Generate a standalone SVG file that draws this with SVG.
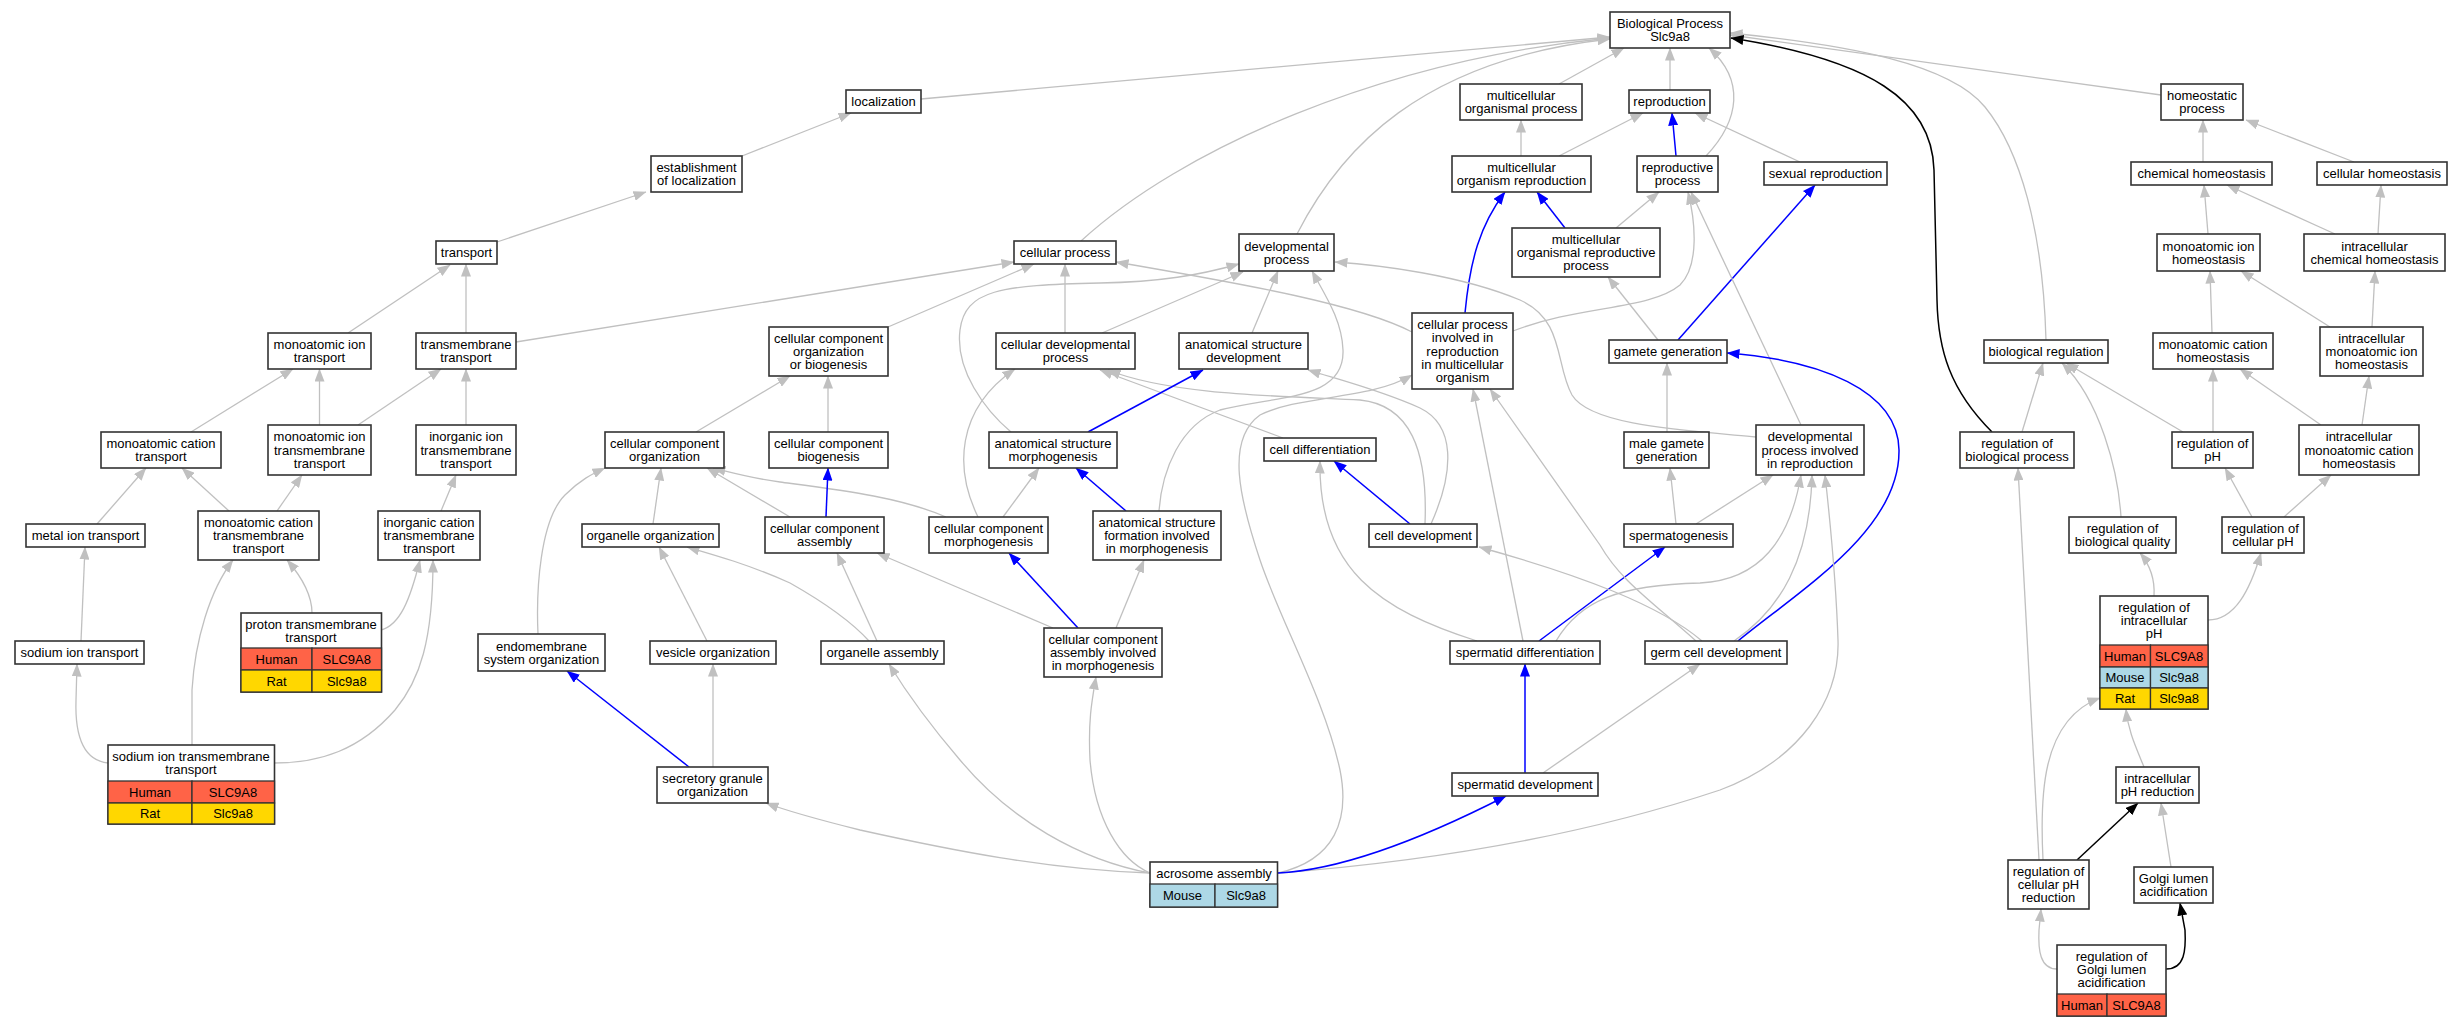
<svg xmlns="http://www.w3.org/2000/svg" width="2463" height="1027" viewBox="0 0 2463 1027">
<style>
text{font-family:"Liberation Sans",Arial,sans-serif;font-size:13px;text-anchor:middle;fill:#000}
.n rect{fill:#fff;stroke:#333;stroke-width:1.6}
.n rect.hu{fill:#ff6347;stroke-width:1.3}
.n rect.mo{fill:#add8e6;stroke-width:1.3}
.n rect.ra{fill:#ffd700;stroke-width:1.3}
#edges path{fill:none;stroke:#c0c0c0;stroke-width:1.3;marker-end:url(#ag)}
#edges path.b{stroke:#0000ff;stroke-width:1.5;marker-end:url(#ab)}
#edges path.k{stroke:#000;stroke-width:1.5;marker-end:url(#ak)}
</style>
<defs>
<marker id="ag" viewBox="0 0 13 10" refX="12.5" refY="5" markerWidth="13" markerHeight="10" markerUnits="userSpaceOnUse" orient="auto"><path d="M0,0 L13,5 L0,10 z" fill="#c0c0c0"/></marker>
<marker id="ab" viewBox="0 0 13 10" refX="12.5" refY="5" markerWidth="13" markerHeight="10" markerUnits="userSpaceOnUse" orient="auto"><path d="M0,0 L13,5 L0,10 z" fill="#0000ff"/></marker>
<marker id="ak" viewBox="0 0 13 10" refX="12.5" refY="5" markerWidth="13" markerHeight="10" markerUnits="userSpaceOnUse" orient="auto"><path d="M0,0 L13,5 L0,10 z" fill="#000"/></marker>
</defs>
<rect width="2463" height="1027" fill="#fff"/>
<g id="edges">
<path d="M921,99 L1610,37"/>
<path d="M1081,241 C1180,150 1380,60 1610,38"/>
<path d="M1297,234 C1340,150 1420,60 1610,39"/>
<path d="M1559,84 L1624,48"/>
<path d="M1670,90 L1670,48"/>
<path d="M1706,156 C1740,120 1745,80 1709,48"/>
<path d="M2161,95 L1730,35"/>
<path d="M2046,340 C2043,230 2020,150 1985,107 S1850,45 1730,33"/>
<path class="k" d="M1992,432 C1950,390 1938,350 1937,300 L1934,170 C1932,100 1870,60 1731,38"/>
<path d="M1521,156 L1521,120"/>
<path d="M1559,156 L1643,113"/>
<path class="b" d="M1676,156 L1672,113"/>
<path d="M1800,162 L1695,113"/>
<path class="b" d="M1565,228 L1537,192"/>
<path d="M1616,228 L1659,192"/>
<path class="b" d="M1465,313 C1470,260 1480,225 1505,192"/>
<path d="M1412,332 C1360,305 1250,285 1116,262"/>
<path d="M1513,331 C1580,305 1650,310 1680,285 C1700,265 1695,220 1688,192"/>
<path d="M1658,340 L1608,277"/>
<path class="b" d="M1678,340 L1815,185"/>
<path d="M1801,425 L1691,192"/>
<path d="M1756,437 C1680,430 1590,425 1572,395 C1555,365 1565,320 1520,300 C1460,275 1380,265 1335,262"/>
<path d="M1676,524 L1670,468"/>
<path d="M1667,432 L1667,363"/>
<path d="M1696,524 L1773,475"/>
<path class="b" d="M1539,641 L1665,547"/>
<path d="M1477,641 C1380,610 1318,570 1320,461"/>
<path d="M1523,641 L1473,389"/>
<path d="M1556,641 C1580,600 1620,585 1700,583 C1760,580 1790,540 1801,475"/>
<path d="M1702,641 C1660,605 1580,575 1479,547"/>
<path d="M1696,641 C1650,600 1620,580 1600,545 L1490,389"/>
<path d="M1734,641 C1780,610 1810,560 1812,475"/>
<path class="b" d="M1738,641 C1800,590 1900,530 1899,450 C1898,390 1820,360 1727,353"/>
<path class="b" d="M1410,524 L1334,461"/>
<path d="M1425,524 C1428,450 1410,405 1360,400 C1280,396 1170,395 1108,370"/>
<path d="M1431,524 C1455,470 1455,425 1420,408 C1380,390 1340,380 1308,370"/>
<path d="M1283,438 L1100,370"/>
<path d="M1252,333 L1278,271"/>
<path class="b" d="M1088,432 L1203,370"/>
<path d="M1065,333 L1065,264"/>
<path d="M1102,333 L1243,272"/>
<path d="M1278,873 C1335,860 1350,820 1340,770 C1325,700 1280,620 1260,560 C1240,500 1225,440 1260,415 C1300,395 1370,400 1412,375"/>
<path d="M1278,873 C1450,860 1600,830 1720,790 C1800,760 1840,700 1838,640 C1836,580 1830,520 1825,475"/>
<path class="b" d="M1278,873 C1340,870 1420,840 1506,796"/>
<path d="M1150,873 C1120,860 1095,820 1090,760 C1088,720 1092,700 1096,677"/>
<path d="M1150,873 C1080,860 1010,820 960,760 C930,725 905,690 889,664"/>
<path d="M1150,873 C1050,870 950,850 860,830 C820,820 790,812 766,803"/>
<path class="b" d="M1525,773 L1525,664"/>
<path d="M1543,773 L1700,664"/>
<path d="M1053,628 L877,553"/>
<path class="b" d="M1078,628 L1009,553"/>
<path d="M1116,628 L1144,560"/>
<path class="b" d="M1126,511 L1076,468"/>
<path d="M1159,511 C1162,470 1180,425 1220,410 C1280,395 1345,400 1343,350 C1342,320 1325,295 1312,271"/>
<path d="M1003,517 L1039,468"/>
<path d="M978,517 C955,470 955,410 1015,369"/>
<path d="M1011,432 C985,410 955,370 960,330 C965,290 1000,285 1100,283 C1160,282 1200,275 1239,264"/>
<path d="M946,517 C900,497 840,490 780,482 C750,478 730,472 713,468"/>
<path d="M790,517 L707,468"/>
<path class="b" d="M826,517 L828,468"/>
<path d="M653,524 L661,468"/>
<path d="M696,432 L790,376"/>
<path d="M828,432 L828,376"/>
<path d="M888,327 L1034,264"/>
<path d="M516,342 L1014,262"/>
<path d="M538,634 C536,590 540,520 565,495 C580,480 592,474 605,468"/>
<path d="M707,641 L659,547"/>
<path d="M869,641 C850,620 820,600 790,583 C750,565 715,555 687,547"/>
<path d="M877,641 L837,553"/>
<path class="b" d="M689,767 L567,671"/>
<path d="M713,767 L713,664"/>
<path d="M742,156 L851,113"/>
<path d="M497,242 L646,192"/>
<path d="M348,333 L450,265"/>
<path d="M466,333 L466,264"/>
<path d="M191,432 L293,369"/>
<path d="M319.5,425 L319.5,369"/>
<path d="M358,425 L441,369"/>
<path d="M466,425 L466,369"/>
<path d="M97,524 L146,468"/>
<path d="M229,511 L182,468"/>
<path d="M277,511 L302,475"/>
<path d="M441,511 L456,475"/>
<path d="M312,613 C312,595 300,575 287,560"/>
<path d="M381,630 C400,625 410,600 420,560"/>
<path d="M81,641 L85,547"/>
<path d="M108,763 C80,760 75,730 76,700 L77,664"/>
<path d="M192,745 L192,690 C195,640 210,590 233,560"/>
<path d="M274,763 C320,763 360,750 395,710 C420,680 433,640 433,560"/>
<path d="M2203,162 L2203,120"/>
<path d="M2354,162 L2246,120"/>
<path d="M2208,234 L2204,185"/>
<path d="M2335,234 L2227,185"/>
<path d="M2378,234 L2381,185"/>
<path d="M2212,333 L2210,271"/>
<path d="M2330,327 L2241,271"/>
<path d="M2372,327 L2375,271"/>
<path d="M2022,432 L2043,363"/>
<path d="M2121,517 C2118,470 2100,400 2062,363"/>
<path d="M2183,432 L2066,363"/>
<path d="M2213,432 L2213,369"/>
<path d="M2321,425 L2240,369"/>
<path d="M2362,425 L2369,376"/>
<path d="M2252,517 L2225,468"/>
<path d="M2284,517 L2331,475"/>
<path d="M2154,596 C2155,580 2150,565 2140,553"/>
<path d="M2208,620 C2235,620 2250,590 2261,553"/>
<path d="M2144,767 C2135,745 2128,730 2126,709"/>
<path d="M2043,860 C2040,800 2040,720 2100,698"/>
<path d="M2039,860 C2030,700 2022,560 2018,468"/>
<path class="k" d="M2077,860 L2138,803"/>
<path d="M2171,867 L2161,803"/>
<path d="M2057,969 C2040,969 2038,950 2039,930 L2041,909"/>
<path class="k" d="M2166,969 C2185,969 2186,950 2185,930 L2180,903"/>
</g>
<g id="n1" class="n"><rect x="1610" y="12" width="120" height="36"/><text x="1670" y="28"><tspan x="1670">Biological Process</tspan><tspan x="1670" dy="13.3">Slc9a8</tspan></text></g>
<g id="n2" class="n"><rect x="846" y="90" width="75" height="23"/><text x="883.5" y="106.1">localization</text></g>
<g id="n3" class="n"><rect x="651" y="156" width="91" height="36"/><text x="696.5" y="172"><tspan x="696.5">establishment</tspan><tspan x="696.5" dy="13.3">of localization</tspan></text></g>
<g id="n4" class="n"><rect x="436" y="241" width="61" height="23"/><text x="466.5" y="257.1">transport</text></g>
<g id="n5" class="n"><rect x="268" y="333" width="103" height="36"/><text x="319.5" y="349"><tspan x="319.5">monoatomic ion</tspan><tspan x="319.5" dy="13.3">transport</tspan></text></g>
<g id="n6" class="n"><rect x="416" y="333" width="100" height="36"/><text x="466" y="349"><tspan x="466">transmembrane</tspan><tspan x="466" dy="13.3">transport</tspan></text></g>
<g id="n7" class="n"><rect x="101" y="432" width="120" height="36"/><text x="161" y="448"><tspan x="161">monoatomic cation</tspan><tspan x="161" dy="13.3">transport</tspan></text></g>
<g id="n8" class="n"><rect x="268" y="425" width="103" height="50"/><text x="319.5" y="441.3"><tspan x="319.5">monoatomic ion</tspan><tspan x="319.5" dy="13.3">transmembrane</tspan><tspan x="319.5" dy="13.3">transport</tspan></text></g>
<g id="n9" class="n"><rect x="416" y="425" width="100" height="50"/><text x="466" y="441.3"><tspan x="466">inorganic ion</tspan><tspan x="466" dy="13.3">transmembrane</tspan><tspan x="466" dy="13.3">transport</tspan></text></g>
<g id="n10" class="n"><rect x="26" y="524" width="119" height="23"/><text x="85.5" y="540.1">metal ion transport</text></g>
<g id="n11" class="n"><rect x="198" y="511" width="121" height="49"/><text x="258.5" y="526.8"><tspan x="258.5">monoatomic cation</tspan><tspan x="258.5" dy="13.3">transmembrane</tspan><tspan x="258.5" dy="13.3">transport</tspan></text></g>
<g id="n12" class="n"><rect x="378" y="511" width="102" height="49"/><text x="429" y="526.8"><tspan x="429">inorganic cation</tspan><tspan x="429" dy="13.3">transmembrane</tspan><tspan x="429" dy="13.3">transport</tspan></text></g>
<g id="n13" class="n"><rect x="241" y="613" width="140.5" height="79"/><text x="311" y="628.5"><tspan x="311">proton transmembrane</tspan><tspan x="311" dy="13.3">transport</tspan></text><rect class="hu" x="241" y="648" width="71" height="22"/><rect class="hu" x="312" y="648" width="69.5" height="22"/><rect class="ra" x="241" y="670" width="71" height="22"/><rect class="ra" x="312" y="670" width="69.5" height="22"/><text x="276.5" y="663.6">Human</text><text x="346.8" y="663.6">SLC9A8</text><text x="276.5" y="685.6">Rat</text><text x="346.8" y="685.6">Slc9a8</text></g>
<g id="n14" class="n"><rect x="15" y="641" width="129" height="23"/><text x="79.5" y="657.1">sodium ion transport</text></g>
<g id="n15" class="n"><rect x="108" y="745" width="166.5" height="79"/><text x="191" y="761"><tspan x="191">sodium ion transmembrane</tspan><tspan x="191" dy="13.3">transport</tspan></text><rect class="hu" x="108" y="781" width="84" height="22"/><rect class="hu" x="192" y="781" width="82.5" height="22"/><rect class="ra" x="108" y="803" width="84" height="21"/><rect class="ra" x="192" y="803" width="82.5" height="21"/><text x="150" y="796.6">Human</text><text x="233" y="796.6">SLC9A8</text><text x="150" y="818.1">Rat</text><text x="233" y="818.1">Slc9a8</text></g>
<g id="n16" class="n"><rect x="478" y="634" width="127" height="37"/><text x="541.5" y="650.5"><tspan x="541.5">endomembrane</tspan><tspan x="541.5" dy="13.3">system organization</tspan></text></g>
<g id="n17" class="n"><rect x="657" y="767" width="111" height="36"/><text x="712.5" y="783"><tspan x="712.5">secretory granule</tspan><tspan x="712.5" dy="13.3">organization</tspan></text></g>
<g id="n18" class="n"><rect x="650" y="641" width="126" height="23"/><text x="713" y="657.1">vesicle organization</text></g>
<g id="n19" class="n"><rect x="582" y="524" width="137" height="23"/><text x="650.5" y="540.1">organelle organization</text></g>
<g id="n20" class="n"><rect x="821" y="641" width="123" height="23"/><text x="882.5" y="657.1">organelle assembly</text></g>
<g id="n21" class="n"><rect x="605" y="432" width="119" height="36"/><text x="664.5" y="448"><tspan x="664.5">cellular component</tspan><tspan x="664.5" dy="13.3">organization</tspan></text></g>
<g id="n22" class="n"><rect x="769" y="327" width="119" height="49"/><text x="828.5" y="342.8"><tspan x="828.5">cellular component</tspan><tspan x="828.5" dy="13.3">organization</tspan><tspan x="828.5" dy="13.3">or biogenesis</tspan></text></g>
<g id="n23" class="n"><rect x="769" y="432" width="119" height="36"/><text x="828.5" y="448"><tspan x="828.5">cellular component</tspan><tspan x="828.5" dy="13.3">biogenesis</tspan></text></g>
<g id="n24" class="n"><rect x="765" y="517" width="119" height="36"/><text x="824.5" y="533"><tspan x="824.5">cellular component</tspan><tspan x="824.5" dy="13.3">assembly</tspan></text></g>
<g id="n25" class="n"><rect x="929" y="517" width="119" height="36"/><text x="988.5" y="533"><tspan x="988.5">cellular component</tspan><tspan x="988.5" dy="13.3">morphogenesis</tspan></text></g>
<g id="n26" class="n"><rect x="1044" y="628" width="118" height="49"/><text x="1103" y="643.8"><tspan x="1103">cellular component</tspan><tspan x="1103" dy="13.3">assembly involved</tspan><tspan x="1103" dy="13.3">in morphogenesis</tspan></text></g>
<g id="n27" class="n"><rect x="1014" y="241" width="102" height="23"/><text x="1065" y="257.1">cellular process</text></g>
<g id="n28" class="n"><rect x="1239" y="234" width="95" height="37"/><text x="1286.5" y="250.5"><tspan x="1286.5">developmental</tspan><tspan x="1286.5" dy="13.3">process</tspan></text></g>
<g id="n29" class="n"><rect x="996" y="333" width="139" height="36"/><text x="1065.5" y="349"><tspan x="1065.5">cellular developmental</tspan><tspan x="1065.5" dy="13.3">process</tspan></text></g>
<g id="n30" class="n"><rect x="1179" y="333" width="129" height="36"/><text x="1243.5" y="349"><tspan x="1243.5">anatomical structure</tspan><tspan x="1243.5" dy="13.3">development</tspan></text></g>
<g id="n31" class="n"><rect x="989" y="432" width="128" height="36"/><text x="1053" y="448"><tspan x="1053">anatomical structure</tspan><tspan x="1053" dy="13.3">morphogenesis</tspan></text></g>
<g id="n32" class="n"><rect x="1093" y="511" width="128" height="49"/><text x="1157" y="526.8"><tspan x="1157">anatomical structure</tspan><tspan x="1157" dy="13.3">formation involved</tspan><tspan x="1157" dy="13.3">in morphogenesis</tspan></text></g>
<g id="n33" class="n"><rect x="1150" y="862" width="127.5" height="45"/><text x="1214" y="877.6">acrosome assembly</text><rect class="mo" x="1150" y="884" width="65" height="23"/><rect class="mo" x="1215" y="884" width="62.5" height="23"/><text x="1182.5" y="900.1">Mouse</text><text x="1246" y="900.1">Slc9a8</text></g>
<g id="n34" class="n"><rect x="1264" y="438" width="112" height="23"/><text x="1320" y="454.1">cell differentiation</text></g>
<g id="n35" class="n"><rect x="1369" y="524" width="108" height="23"/><text x="1423" y="540.1">cell development</text></g>
<g id="n36" class="n"><rect x="1412" y="313" width="101" height="76"/><text x="1462.5" y="329"><tspan x="1462.5">cellular process</tspan><tspan x="1462.5" dy="13.3">involved in</tspan><tspan x="1462.5" dy="13.3">reproduction</tspan><tspan x="1462.5" dy="13.3">in multicellular</tspan><tspan x="1462.5" dy="13.3">organism</tspan></text></g>
<g id="n37" class="n"><rect x="1460" y="84" width="122" height="36"/><text x="1521" y="100"><tspan x="1521">multicellular</tspan><tspan x="1521" dy="13.3">organismal process</tspan></text></g>
<g id="n38" class="n"><rect x="1452" y="156" width="139" height="36"/><text x="1521.5" y="172"><tspan x="1521.5">multicellular</tspan><tspan x="1521.5" dy="13.3">organism reproduction</tspan></text></g>
<g id="n39" class="n"><rect x="1512" y="228" width="148" height="49"/><text x="1586" y="243.8"><tspan x="1586">multicellular</tspan><tspan x="1586" dy="13.3">organismal reproductive</tspan><tspan x="1586" dy="13.3">process</tspan></text></g>
<g id="n40" class="n"><rect x="1629" y="90" width="81" height="23"/><text x="1669.5" y="106.1">reproduction</text></g>
<g id="n41" class="n"><rect x="1637" y="156" width="81" height="36"/><text x="1677.5" y="172"><tspan x="1677.5">reproductive</tspan><tspan x="1677.5" dy="13.3">process</tspan></text></g>
<g id="n42" class="n"><rect x="1764" y="162" width="123" height="23"/><text x="1825.5" y="178.1">sexual reproduction</text></g>
<g id="n43" class="n"><rect x="1609" y="340" width="118" height="23"/><text x="1668" y="356.1">gamete generation</text></g>
<g id="n44" class="n"><rect x="1624" y="432" width="85" height="36"/><text x="1666.5" y="448"><tspan x="1666.5">male gamete</tspan><tspan x="1666.5" dy="13.3">generation</tspan></text></g>
<g id="n45" class="n"><rect x="1756" y="425" width="108" height="50"/><text x="1810" y="441.3"><tspan x="1810">developmental</tspan><tspan x="1810" dy="13.3">process involved</tspan><tspan x="1810" dy="13.3">in reproduction</tspan></text></g>
<g id="n46" class="n"><rect x="1624" y="524" width="109" height="23"/><text x="1678.5" y="540.1">spermatogenesis</text></g>
<g id="n47" class="n"><rect x="1450" y="641" width="150" height="23"/><text x="1525" y="657.1">spermatid differentiation</text></g>
<g id="n48" class="n"><rect x="1645" y="641" width="142" height="23"/><text x="1716" y="657.1">germ cell development</text></g>
<g id="n49" class="n"><rect x="1452" y="773" width="146" height="23"/><text x="1525" y="789.1">spermatid development</text></g>
<g id="n50" class="n"><rect x="2161" y="84" width="82" height="36"/><text x="2202" y="100"><tspan x="2202">homeostatic</tspan><tspan x="2202" dy="13.3">process</tspan></text></g>
<g id="n51" class="n"><rect x="2131" y="162" width="141" height="23"/><text x="2201.5" y="178.1">chemical homeostasis</text></g>
<g id="n52" class="n"><rect x="2317" y="162" width="130" height="23"/><text x="2382" y="178.1">cellular homeostasis</text></g>
<g id="n53" class="n"><rect x="2157" y="234" width="103" height="37"/><text x="2208.5" y="250.5"><tspan x="2208.5">monoatomic ion</tspan><tspan x="2208.5" dy="13.3">homeostasis</tspan></text></g>
<g id="n54" class="n"><rect x="2304" y="234" width="141" height="37"/><text x="2374.5" y="250.5"><tspan x="2374.5">intracellular</tspan><tspan x="2374.5" dy="13.3">chemical homeostasis</tspan></text></g>
<g id="n55" class="n"><rect x="2153" y="333" width="120" height="36"/><text x="2213" y="349"><tspan x="2213">monoatomic cation</tspan><tspan x="2213" dy="13.3">homeostasis</tspan></text></g>
<g id="n56" class="n"><rect x="2320" y="327" width="103" height="49"/><text x="2371.5" y="342.8"><tspan x="2371.5">intracellular</tspan><tspan x="2371.5" dy="13.3">monoatomic ion</tspan><tspan x="2371.5" dy="13.3">homeostasis</tspan></text></g>
<g id="n57" class="n"><rect x="1984" y="340" width="124" height="23"/><text x="2046" y="356.1">biological regulation</text></g>
<g id="n58" class="n"><rect x="1960" y="432" width="114" height="36"/><text x="2017" y="448"><tspan x="2017">regulation of</tspan><tspan x="2017" dy="13.3">biological process</tspan></text></g>
<g id="n59" class="n"><rect x="2172" y="432" width="81" height="36"/><text x="2212.5" y="448"><tspan x="2212.5">regulation of</tspan><tspan x="2212.5" dy="13.3">pH</tspan></text></g>
<g id="n60" class="n"><rect x="2299" y="425" width="120" height="50"/><text x="2359" y="441.3"><tspan x="2359">intracellular</tspan><tspan x="2359" dy="13.3">monoatomic cation</tspan><tspan x="2359" dy="13.3">homeostasis</tspan></text></g>
<g id="n61" class="n"><rect x="2069" y="517" width="107" height="36"/><text x="2122.5" y="533"><tspan x="2122.5">regulation of</tspan><tspan x="2122.5" dy="13.3">biological quality</tspan></text></g>
<g id="n62" class="n"><rect x="2222" y="517" width="82" height="36"/><text x="2263" y="533"><tspan x="2263">regulation of</tspan><tspan x="2263" dy="13.3">cellular pH</tspan></text></g>
<g id="n63" class="n"><rect x="2100" y="596" width="108" height="113"/><text x="2154" y="611.8"><tspan x="2154">regulation of</tspan><tspan x="2154" dy="13.3">intracellular</tspan><tspan x="2154" dy="13.3">pH</tspan></text><rect class="hu" x="2100" y="645" width="50.5" height="22"/><rect class="hu" x="2150.5" y="645" width="57.5" height="22"/><rect class="mo" x="2100" y="667" width="50.5" height="21"/><rect class="mo" x="2150.5" y="667" width="57.5" height="21"/><rect class="ra" x="2100" y="688" width="50.5" height="21"/><rect class="ra" x="2150.5" y="688" width="57.5" height="21"/><text x="2125" y="660.6">Human</text><text x="2179" y="660.6">SLC9A8</text><text x="2125" y="682.1">Mouse</text><text x="2179" y="682.1">Slc9a8</text><text x="2125" y="703.1">Rat</text><text x="2179" y="703.1">Slc9a8</text></g>
<g id="n64" class="n"><rect x="2116" y="767" width="83" height="36"/><text x="2157.5" y="783"><tspan x="2157.5">intracellular</tspan><tspan x="2157.5" dy="13.3">pH reduction</tspan></text></g>
<g id="n65" class="n"><rect x="2008" y="860" width="81" height="49"/><text x="2048.5" y="875.8"><tspan x="2048.5">regulation of</tspan><tspan x="2048.5" dy="13.3">cellular pH</tspan><tspan x="2048.5" dy="13.3">reduction</tspan></text></g>
<g id="n66" class="n"><rect x="2134" y="867" width="79" height="36"/><text x="2173.5" y="883"><tspan x="2173.5">Golgi lumen</tspan><tspan x="2173.5" dy="13.3">acidification</tspan></text></g>
<g id="n67" class="n"><rect x="2057" y="945" width="109" height="71"/><text x="2111.5" y="960.8"><tspan x="2111.5">regulation of</tspan><tspan x="2111.5" dy="13.3">Golgi lumen</tspan><tspan x="2111.5" dy="13.3">acidification</tspan></text><rect class="hu" x="2057" y="994" width="50" height="22"/><rect class="hu" x="2107" y="994" width="59" height="22"/><text x="2082" y="1009.6">Human</text><text x="2136.5" y="1009.6">SLC9A8</text></g>
</svg>
